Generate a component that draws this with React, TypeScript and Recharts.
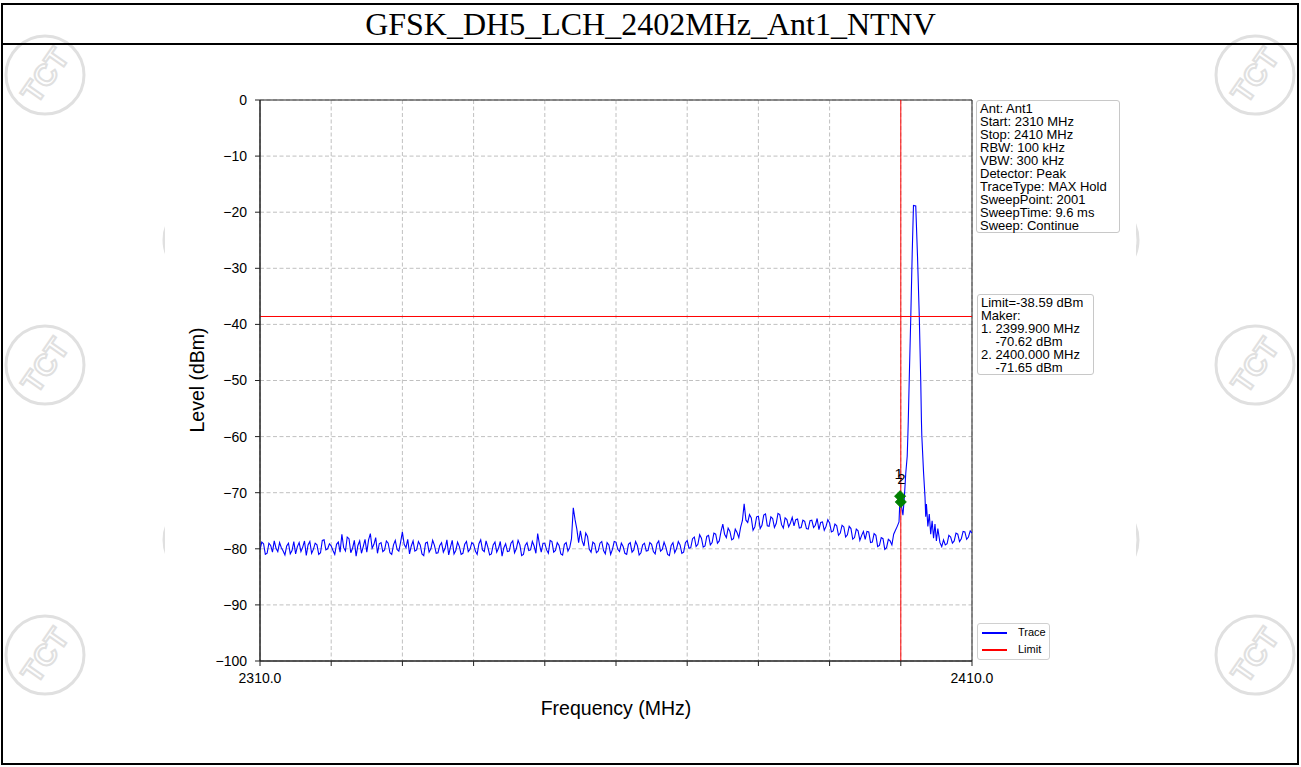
import React from 'react';
import {
  ComposedChart,
  Line,
  Scatter,
  XAxis,
  YAxis,
  CartesianGrid,
  ReferenceLine,
  ReferenceArea,
} from 'recharts';

// ---- data ----
const freqs: number[] = [
  2310, 2310.25, 2310.5, 2310.75, 2311, 2311.25, 2311.5, 2311.75, 2312, 2312.25, 2312.5, 2312.75, 2313, 2313.25, 2313.5, 2313.75, 2314, 2314.25, 2314.5, 2314.75,
  2315, 2315.25, 2315.5, 2315.75, 2316, 2316.25, 2316.5, 2316.75, 2317, 2317.25, 2317.5, 2317.75, 2318, 2318.25, 2318.5, 2318.75, 2319, 2319.25, 2319.5, 2319.75,
  2320, 2320.25, 2320.5, 2320.75, 2321, 2321.25, 2321.5, 2321.75, 2322, 2322.25, 2322.5, 2322.75, 2323, 2323.25, 2323.5, 2323.75, 2324, 2324.25, 2324.5, 2324.75,
  2325, 2325.25, 2325.5, 2325.75, 2326, 2326.25, 2326.5, 2326.75, 2327, 2327.25, 2327.5, 2327.75, 2328, 2328.25, 2328.5, 2328.75, 2329, 2329.25, 2329.5, 2329.75,
  2330, 2330.25, 2330.5, 2330.75, 2331, 2331.25, 2331.5, 2331.75, 2332, 2332.25, 2332.5, 2332.75, 2333, 2333.25, 2333.5, 2333.75, 2334, 2334.25, 2334.5, 2334.75,
  2335, 2335.25, 2335.5, 2335.75, 2336, 2336.25, 2336.5, 2336.75, 2337, 2337.25, 2337.5, 2337.75, 2338, 2338.25, 2338.5, 2338.75, 2339, 2339.25, 2339.5, 2339.75,
  2340, 2340.25, 2340.5, 2340.75, 2341, 2341.25, 2341.5, 2341.75, 2342, 2342.25, 2342.5, 2342.75, 2343, 2343.25, 2343.5, 2343.75, 2344, 2344.25, 2344.5, 2344.75,
  2345, 2345.25, 2345.5, 2345.75, 2346, 2346.25, 2346.5, 2346.75, 2347, 2347.25, 2347.5, 2347.75, 2348, 2348.25, 2348.5, 2348.75, 2349, 2349.25, 2349.5, 2349.75,
  2350, 2350.25, 2350.5, 2350.75, 2351, 2351.25, 2351.5, 2351.75, 2352, 2352.25, 2352.5, 2352.75, 2353, 2353.25, 2353.5, 2353.75, 2354, 2354.25, 2354.5, 2354.75,
  2355, 2355.25, 2355.5, 2355.75, 2356, 2356.25, 2356.5, 2356.75, 2357, 2357.25, 2357.5, 2357.75, 2358, 2358.25, 2358.5, 2358.75, 2359, 2359.25, 2359.5, 2359.75,
  2360, 2360.25, 2360.5, 2360.75, 2361, 2361.25, 2361.5, 2361.75, 2362, 2362.25, 2362.5, 2362.75, 2363, 2363.25, 2363.5, 2363.75, 2364, 2364.25, 2364.5, 2364.75,
  2365, 2365.25, 2365.5, 2365.75, 2366, 2366.25, 2366.5, 2366.75, 2367, 2367.25, 2367.5, 2367.75, 2368, 2368.25, 2368.5, 2368.75, 2369, 2369.25, 2369.5, 2369.75,
  2370, 2370.25, 2370.5, 2370.75, 2371, 2371.25, 2371.5, 2371.75, 2372, 2372.25, 2372.5, 2372.75, 2373, 2373.25, 2373.5, 2373.75, 2374, 2374.25, 2374.5, 2374.75,
  2375, 2375.25, 2375.5, 2375.75, 2376, 2376.25, 2376.5, 2376.75, 2377, 2377.25, 2377.5, 2377.75, 2378, 2378.25, 2378.5, 2378.75, 2379, 2379.25, 2379.5, 2379.75,
  2380, 2380.25, 2380.5, 2380.75, 2381, 2381.25, 2381.5, 2381.75, 2382, 2382.25, 2382.5, 2382.75, 2383, 2383.25, 2383.5, 2383.75, 2384, 2384.25, 2384.5, 2384.75,
  2385, 2385.25, 2385.5, 2385.75, 2386, 2386.25, 2386.5, 2386.75, 2387, 2387.25, 2387.5, 2387.75, 2388, 2388.25, 2388.5, 2388.75, 2389, 2389.25, 2389.5, 2389.75,
  2390, 2390.25, 2390.5, 2390.75, 2391, 2391.25, 2391.5, 2391.75, 2392, 2392.25, 2392.5, 2392.75, 2393, 2393.25, 2393.5, 2393.75, 2394, 2394.25, 2394.5, 2394.75,
  2395, 2395.25, 2395.5, 2395.75, 2396, 2396.25, 2396.5, 2396.75, 2397, 2397.25, 2397.5, 2397.75, 2398, 2398.25, 2398.5, 2398.75, 2399, 2399.25, 2399.5, 2399.75,
  2399.9, 2400, 2400.3, 2400.5, 2400.7, 2400.9, 2401, 2401.05, 2401.2, 2401.4,
  2401.6, 2401.78, 2402.1, 2402.35, 2402.6, 2402.8, 2402.9, 2402.95, 2403.2, 2403.4,
  2403.5, 2403.6, 2403.8, 2404, 2404.2, 2404.4, 2404.6, 2404.8, 2405, 2405.2,
  2405.5, 2405.75,
  2406, 2406.25, 2406.5, 2406.75, 2407, 2407.25, 2407.5, 2407.75, 2408, 2408.25,
  2408.5, 2408.75, 2409, 2409.25, 2409.5, 2409.75, 2410,
];

const levels: number[] = [
  -80.2, -78.8, -79.1, -81.0, -80.8, -79.0, -79.4, -80.6, -78.6, -79.9, -80.5, -78.9, -79.8, -80.4, -81.1, -79.5, -79.0, -80.9, -80.3, -78.7,
  -80.9, -79.6, -78.9, -80.5, -79.7, -78.6, -81.2, -79.3, -78.7, -80.8, -80.1, -79.0, -79.3, -81.0, -80.7, -78.5, -78.4, -80.2, -80.0, -79.1,
  -79.5, -80.3, -81.0, -79.2, -78.8, -80.6, -77.4, -79.8, -80.4, -77.9, -78.2, -80.7, -79.9, -78.5, -81.3, -79.4, -78.6, -80.8, -79.6, -78.3,
  -80.6, -78.4, -77.3, -79.9, -79.2, -78.0, -80.8, -79.1, -78.9, -80.5, -80.2, -78.6, -79.0, -80.7, -81.0, -79.3, -78.5, -80.1, -80.4, -78.8,
  -77.0, -79.2, -79.8, -78.3, -80.9, -79.5, -78.6, -80.4, -80.2, -78.7, -79.3, -80.9, -81.2, -79.0, -78.8, -80.6, -80.0, -78.5, -79.4, -80.8,
  -80.7, -79.4, -78.9, -80.6, -79.9, -78.4, -81.1, -79.7, -78.5, -80.9, -80.3, -78.8, -79.6, -81.0, -80.8, -79.2, -78.7, -80.5, -80.1, -78.9,
  -79.2, -80.4, -81.0, -79.1, -78.4, -80.2, -80.5, -78.6, -79.7, -81.1, -80.9, -79.3, -78.8, -80.6, -79.9, -78.7, -81.3, -79.8, -79.1, -80.5,
  -80.4, -79.0, -78.6, -80.7, -80.0, -78.5, -79.3, -81.2, -81.0, -79.4, -78.9, -80.3, -80.2, -78.7, -79.5, -80.8, -77.3, -79.2, -80.6, -79.0,
  -79.0, -80.2, -80.8, -78.5, -78.7, -80.6, -80.3, -78.9, -79.4, -80.9, -81.1, -79.2, -78.9, -80.4, -79.8, -78.2, -72.7, -74.8, -76.5, -78.9,
  -76.8, -78.6, -79.5, -77.2, -77.8, -80.1, -80.6, -78.8, -79.1, -80.7, -80.4, -79.0, -78.7, -80.3, -80.9, -78.9, -79.3, -81.0, -80.1, -78.7,
  -78.8, -80.1, -80.5, -79.0, -79.6, -80.8, -81.0, -79.2, -78.9, -80.6, -80.2, -78.7, -79.4, -81.1, -80.7, -79.3, -79.0, -80.4, -80.3, -78.9,
  -79.2, -80.5, -80.9, -79.1, -78.6, -80.4, -80.1, -78.8, -79.7, -81.0, -81.2, -79.4, -78.9, -80.7, -80.0, -78.7, -79.3, -80.8, -80.6, -78.9,
  -78.5, -79.9, -79.8, -78.2, -77.9, -79.6, -79.2, -77.5, -78.1, -79.7, -79.5, -77.8, -77.6, -79.3, -78.9, -77.2, -77.4, -79.0, -78.6, -76.9,
  -75.6, -77.4, -78.0, -76.3, -76.9, -78.4, -78.2, -76.5, -77.1, -78.0, -76.2, -75.0, -72.0, -74.9, -75.3, -73.9, -74.5, -76.7, -76.1, -74.3,
  -74.2, -76.4, -75.8, -74.0, -73.8, -75.9, -76.0, -74.3, -74.6, -76.2, -75.5, -73.7, -73.9, -75.7, -76.3, -74.5, -74.8, -76.1, -75.4, -74.4,
  -75.9, -74.8, -74.7, -76.3, -76.2, -74.9, -75.1, -76.4, -76.5, -75.0, -74.9, -76.2, -75.8, -74.6, -76.6, -75.3, -75.2, -76.7, -76.0, -74.8,
  -75.4, -77.0, -76.8, -75.6, -75.9, -77.6, -77.2, -75.8, -76.1, -77.9, -77.5, -76.0, -76.4, -78.3, -78.0, -76.5, -76.8, -78.5, -77.6, -76.9,
  -78.3, -76.9, -77.0, -78.9, -78.8, -77.3, -77.6, -79.6, -79.4, -78.0, -78.2, -80.1, -79.8, -78.3, -78.6, -79.3, -77.4, -76.7, -76.0, -75.2,
  -70.62, -71.65, -74.0, -70.8, -66.5, -63.5, -59.5, -57.2, -49.0, -38.8,
  -27.5, -18.8, -18.9, -28.0, -38.8, -50.0, -57.3, -59.8, -66.5, -70.8,
  -74.3, -72.0, -76.0, -73.8, -77.4, -75.0, -78.1, -75.6, -78.6, -76.4,
  -78.9, -79.6,
  -78.4, -79.3, -79.1, -77.6, -77.9, -79.0, -78.6, -77.2, -77.4, -78.7,
  -78.2, -76.9, -77.0, -78.3, -77.9, -76.8, -77.2,
];

const xTicks = [2310, 2320, 2330, 2340, 2350, 2360, 2370, 2380, 2390, 2400, 2410];
const xLabeled = [2310, 2410];
const yTicks = [0, -10, -20, -30, -40, -50, -60, -70, -80, -90, -100];

const limitLevel = -38.59;
const cursorFreq = 2400;

const markerFreqs = [2399.9, 2400.0];
const markerLevels = [-70.62, -71.65];
const markerNames = ['1', '2'];

const infoLines = [
  'Ant: Ant1',
  'Start: 2310 MHz',
  'Stop: 2410 MHz',
  'RBW: 100 kHz',
  'VBW: 300 kHz',
  'Detector: Peak',
  'TraceType: MAX Hold',
  'SweepPoint: 2001',
  'SweepTime: 9.6 ms',
  'Sweep: Continue',
];

const limitLines = [
  'Limit=-38.59 dBm',
  'Maker:',
  '1. 2399.900 MHz',
  '    -70.62 dBm',
  '2. 2400.000 MHz',
  '    -71.65 dBm',
];

const legendItems = [
  { name: 'Trace', color: '#0000ff' },
  { name: 'Limit', color: '#ff0000' },
];

const titleText = 'GFSK_DH5_LCH_2402MHz_Ant1_NTNV';

// ---- derived tables ----
const traceData = freqs.map((f, i) => ({ f, v: levels[i] }));
const markerData = markerFreqs.map((f, i) => ({ f, v: markerLevels[i], name: markerNames[i] }));

const SANS = "'Liberation Sans', Arial, Helvetica, sans-serif";
const SERIF = "'Liberation Serif', 'Times New Roman', serif";

const fmtY = (v: number) => (v < 0 ? '\u2212' + Math.abs(v) : String(v));
const fmtX = (v: number) => (xLabeled.includes(v) ? v.toFixed(1) : '');

const Diamond = (props: any) => {
  const { cx, cy, payload } = props;
  if (cx == null || cy == null) return null;
  const r = 5.5;
  const dx = payload && payload.name === '1' ? -1.5 : 0.5;
  return (
    <g>
      <polygon
        points={`${cx},${cy - r} ${cx + r},${cy} ${cx},${cy + r} ${cx - r},${cy}`}
        fill="#008000"
        stroke="#008000"
        strokeWidth={1}
      />
      <text
        x={cx + dx}
        y={cy - 23}
        dy="0.36em"
        textAnchor="middle"
        fontFamily={SANS}
        fontSize={15}
        fill="#000"
      >
        {payload ? payload.name : ''}
      </text>
    </g>
  );
};

const Logo = ({ cx, cy }: { cx: number; cy: number }) => (
  <g>
    <circle cx={cx} cy={cy} r={39} fill="none" stroke="#e0e0e0" strokeWidth={3} />
    <text
      x={cx}
      y={cy}
      dy="0.35em"
      textAnchor="middle"
      fontFamily={SANS}
      fontWeight="bold"
      fontSize={30}
      fill="none"
      stroke="#e0e0e0"
      strokeWidth={2}
      transform={`rotate(-55 ${cx} ${cy})`}
    >
      TCT
    </text>
  </g>
);

export default function App() {
  return (
    <div
      style={{
        position: 'absolute',
        left: 0,
        top: 0,
        width: 1301,
        height: 767,
        background: '#fff',
        overflow: 'hidden',
        fontFamily: SANS,
      }}
    >
      {/* watermarks */}
      <svg width={1301} height={767} style={{ position: 'absolute', left: 0, top: 0 }}>
        <Logo cx={45} cy={75} />
        <Logo cx={45} cy={365} />
        <Logo cx={45} cy={655} />
        <Logo cx={1255} cy={75} />
        <Logo cx={1255} cy={365} />
        <Logo cx={1255} cy={655} />
        <Logo cx={203} cy={240} />
        <Logo cx={203} cy={540} />
        <Logo cx={1099} cy={240} />
        <Logo cx={1099} cy={540} />
        <rect x={165} y={46} width={971} height={718} fill="#fff" />
      </svg>

      {/* frame */}
      <div
        style={{
          position: 'absolute',
          left: 1,
          top: 3,
          width: 1298,
          height: 762,
          boxSizing: 'border-box',
          border: '2px solid #000',
        }}
      />
      <div style={{ position: 'absolute', left: 1, top: 43, width: 1298, height: 2, background: '#000' }} />

      {/* title */}
      <div
        style={{
          position: 'absolute',
          left: 0,
          top: 5,
          width: 1301,
          height: 38,
          lineHeight: '38px',
          textAlign: 'center',
          fontFamily: SERIF,
          fontSize: 32,
          color: '#000',
        }}
      >
        {titleText}
      </div>

      {/* chart */}
      <div style={{ position: 'absolute', left: 0, top: 0 }}>
        <ComposedChart
          width={1301}
          height={767}
          data={traceData}
          margin={{ top: 100, right: 329, left: 200, bottom: 76 }}
        >
          <CartesianGrid stroke="#b0b0b0" strokeDasharray="4 2.5" strokeWidth={0.8} />
          <XAxis
            dataKey="f"
            type="number"
            domain={[2310, 2410]}
            ticks={xTicks}
            tickFormatter={fmtX}
            allowDataOverflow
            height={30}
            interval={0}
            tickSize={5}
            tickMargin={7}
            axisLine={{ stroke: '#222', strokeWidth: 1 }}
            tickLine={{ stroke: '#222', strokeWidth: 1 }}
            tick={{ fill: '#000', fontSize: 14, fontFamily: SANS }}
          />
          <YAxis
            type="number"
            domain={[-100, 0]}
            ticks={yTicks}
            tickFormatter={fmtY}
            allowDataOverflow
            width={60}
            interval={0}
            tickSize={5}
            tickMargin={8}
            axisLine={{ stroke: '#222', strokeWidth: 1 }}
            tickLine={{ stroke: '#222', strokeWidth: 1 }}
            tick={{ fill: '#000', fontSize: 14, fontFamily: SANS }}
          />
          <ReferenceArea
            x1={2310}
            x2={2410}
            y1={-100}
            y2={0}
            fill="none"
            fillOpacity={0}
            stroke="#222"
            strokeWidth={1}
          />
          <Line
            dataKey="v"
            stroke="#0000ff"
            strokeWidth={1.1}
            dot={false}
            activeDot={false}
            isAnimationActive={false}
            type="linear"
          />
          <ReferenceLine y={limitLevel} stroke="#ff0000" strokeWidth={1} />
          <ReferenceLine x={cursorFreq} stroke="#ff0000" strokeWidth={1} />
          <Scatter data={markerData} dataKey="v" shape={Diamond} isAnimationActive={false} />
        </ComposedChart>
      </div>

      {/* axis titles */}
      <div
        style={{
          position: 'absolute',
          left: 466,
          top: 696,
          width: 300,
          textAlign: 'center',
          fontSize: 19.5,
          lineHeight: '24px',
          color: '#000',
        }}
      >
        Frequency (MHz)
      </div>
      <div
        style={{
          position: 'absolute',
          left: 197 - 150,
          top: 380 - 12,
          width: 300,
          textAlign: 'center',
          fontSize: 19.5,
          lineHeight: '24px',
          color: '#000',
          transform: 'rotate(-90deg)',
          transformOrigin: '150px 12px',
        }}
      >
        Level (dBm)
      </div>

      {/* info box */}
      <div
        style={{
          position: 'absolute',
          left: 976,
          top: 100,
          width: 144,
          height: 133,
          boxSizing: 'border-box',
          border: '1px solid #c8c8c8',
          borderRadius: 3,
          background: '#fff',
          padding: '1px 0 0 3px',
          fontSize: 13,
          lineHeight: '13px',
          color: '#000',
          whiteSpace: 'pre',
        }}
      >
        {infoLines.map((l) => (
          <div key={l}>{l}</div>
        ))}
      </div>

      {/* limit / marker box */}
      <div
        style={{
          position: 'absolute',
          left: 977,
          top: 294,
          width: 117,
          height: 81,
          boxSizing: 'border-box',
          border: '1px solid #c8c8c8',
          borderRadius: 3,
          background: '#fff',
          padding: '1px 0 0 3px',
          fontSize: 13,
          lineHeight: '13px',
          color: '#000',
          whiteSpace: 'pre',
        }}
      >
        {limitLines.map((l, i) => (
          <div key={i}>{l}</div>
        ))}
      </div>

      {/* legend */}
      <div
        style={{
          position: 'absolute',
          left: 977,
          top: 623,
          width: 73,
          height: 37,
          boxSizing: 'border-box',
          border: '1px solid #d0d0d0',
          borderRadius: 3,
          background: '#fff',
        }}
      >
        {legendItems.map((it, i) => (
          <div
            key={it.name}
            style={{ position: 'absolute', left: 4, top: 1 + i * 17, height: 15, width: 68 }}
          >
            <div
              style={{
                position: 'absolute',
                left: 0,
                top: 7,
                width: 25,
                height: 1.5,
                background: it.color,
              }}
            />
            <div
              style={{
                position: 'absolute',
                left: 36,
                top: 0,
                fontSize: 11,
                lineHeight: '15px',
                color: '#000',
              }}
            >
              {it.name}
            </div>
          </div>
        ))}
      </div>
    </div>
  );
}
